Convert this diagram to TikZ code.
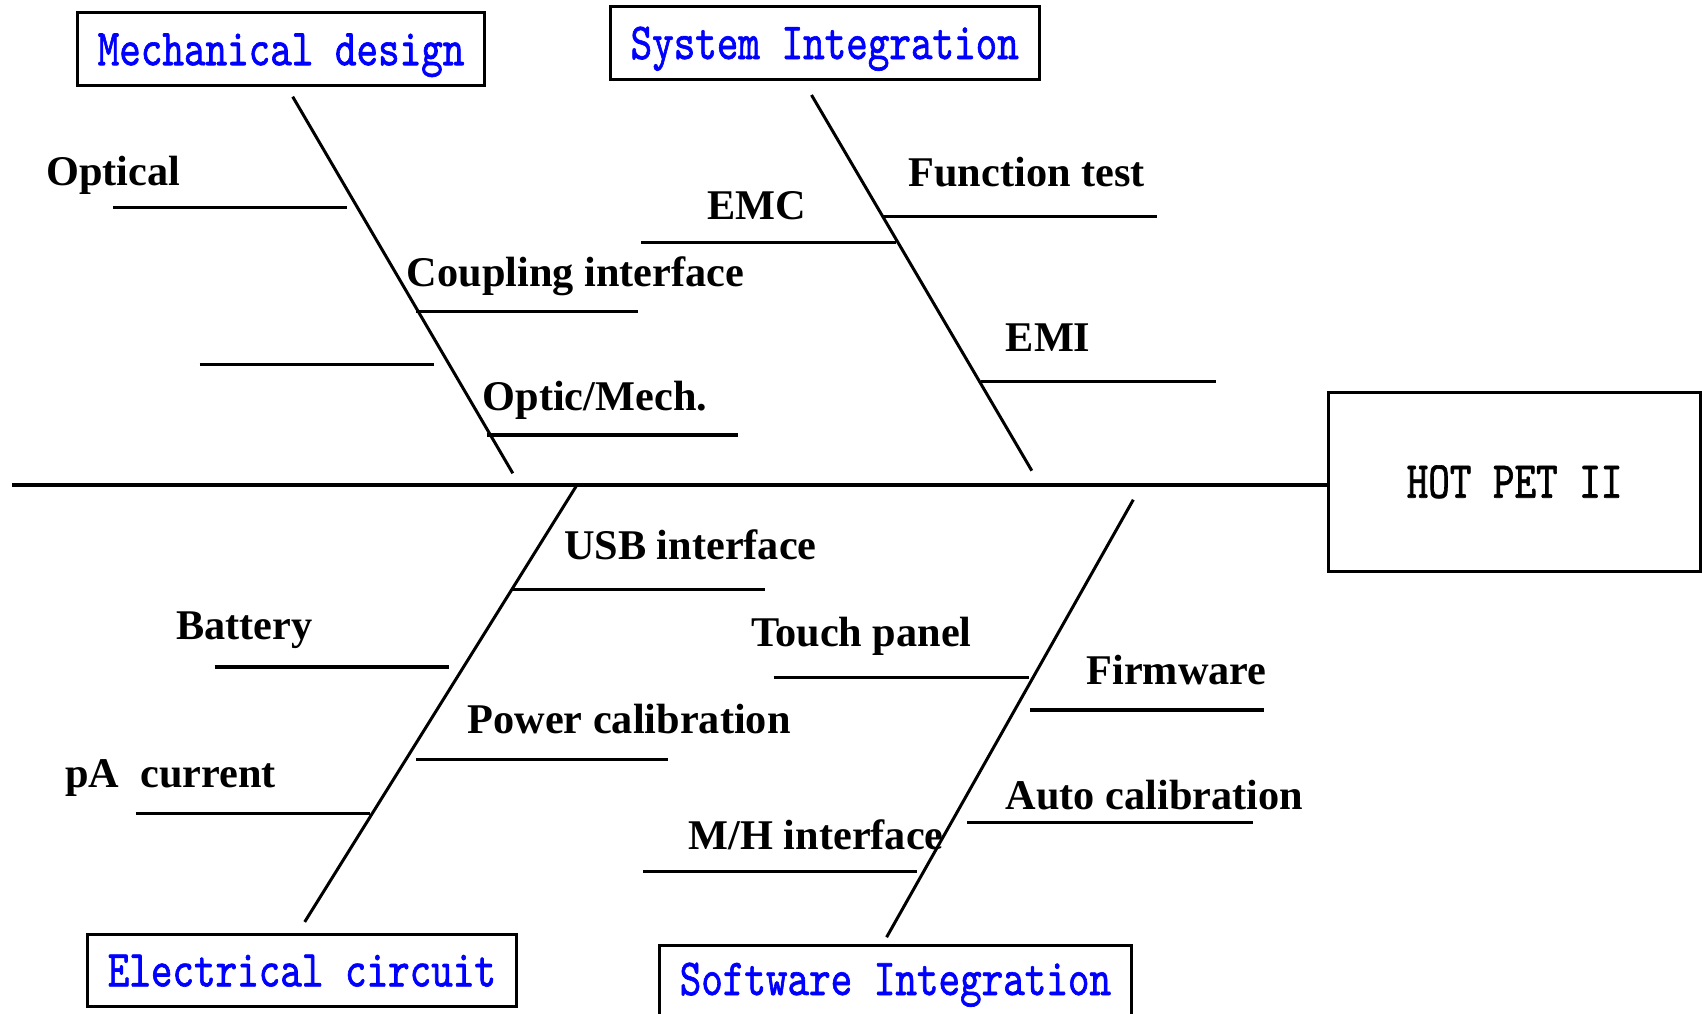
\documentclass[tikz,border=0pt]{standalone}
\usepackage{fontspec}
\setmainfont{Liberation Serif}
\newfontfamily\monolbl{lmmono10-regular.otf}[FakeStretch=0.79,FakeBold=1.2]
\begin{document}
\begin{tikzpicture}[x=1pt,y=-1pt,
  cat/.style={draw, line width=3pt, inner sep=0pt, text height=32pt, text depth=0pt,
    font=\monolbl\fontsize{52}{60}\selectfont, text=blue},
  lbl/.style={anchor=base west, inner sep=0pt, font=\bfseries\fontsize{42.3}{50}\selectfont},
  bone/.style={line width=3.3pt},
  spine/.style={line width=3pt}]
\useasboundingbox (0,0) rectangle (1702,1013);
\clip (0,0) rectangle (1702,1013);
\fill[white] (0,0) rectangle (1702,1013);

% category boxes and head
\node[cat, minimum width=407pt, minimum height=73pt] (mech) at (281.05,49.2) {Mechanical design};
\node[cat, minimum width=429.4pt, minimum height=72.6pt] (sys) at (824.7,43) {System Integration};
\node[cat, text=black, minimum width=371.7pt, minimum height=178.8pt] (hot) at (1514.55,481.7) {HOT PET II};
\node[cat, minimum width=428.2pt, minimum height=71.8pt] (elec) at (301.9,970.4) {Electrical circuit};
\node[cat, text depth=8pt, minimum width=471.2pt, minimum height=76pt] (soft) at (895.4,983) {Software Integration};

% main backbone
\coordinate (tail) at (12,485);
\draw[bone] (tail) -- (tail -| hot.west);

% spines
\draw[spine] (292.7,96.7) -- (512.8,473.3);
\draw[spine] (811.5,95) -- (1031.8,470.7);
\draw[spine] (576.3,486) -- (304.7,921.9);
\draw[spine] (1133.3,499.7) -- (886.6,937.2);

% ribs
\draw[bone] (112.8,207.3) -- (347,207.3);
\draw[bone] (416,311.7) -- (637.5,311.7);
\draw[bone] (199.5,364.3) -- (433.7,364.3);
\draw[bone] (486.8,435) -- (738.4,435);
\draw[bone] (640.8,242.3) -- (896,242.3);
\draw[bone] (883.8,216.7) -- (1157.3,216.7);
\draw[bone] (981,381.7) -- (1215.7,381.7);
\draw[bone] (512.3,589.5) -- (765.4,589.5);
\draw[bone] (214.7,667) -- (448.9,667);
\draw[bone] (773.6,677.2) -- (1029,677.2);
\draw[bone] (416.3,759.4) -- (668.4,759.4);
\draw[bone] (135.5,813.2) -- (370.3,813.2);
\draw[bone] (643,871.6) -- (917,871.6);
\draw[bone] (1030,710.1) -- (1263.7,710.1);
\draw[bone] (967.3,822.7) -- (1252.8,822.7);

% labels
\node[lbl] (optical) at (46,185) {Optical};
\node[lbl] (coupling) at (406.6,286.7) {Coupling interface};
\node[lbl] (opticmech) at (482.5,410) {Optic/Mech.};
\node[lbl] (emc) at (707.5,219.3) {EMC};
\node[lbl] (ftest) at (908.4,186) {Function test};
\node[lbl] (emi) at (1005.6,351.7) {EMI};
\node[lbl] (usb) at (563.8,559.9) {USB interface};
\node[lbl] (battery) at (176.2,639.8) {Battery};
\node[lbl] (touch) at (750.8,646.6) {Touch panel};
\node[lbl] (power) at (467.3,733.3) {Power calibration};
\node[lbl] (pa) at (65,787.7) {pA\ \ current};
\node[lbl] (mh) at (688.5,849.9) {M/H interface};
\node[lbl] (firm) at (1086.3,684) {Firmware};
\node[lbl] (auto) at (1005.6,809.1) {Auto calibration};
\end{tikzpicture}
\end{document}
